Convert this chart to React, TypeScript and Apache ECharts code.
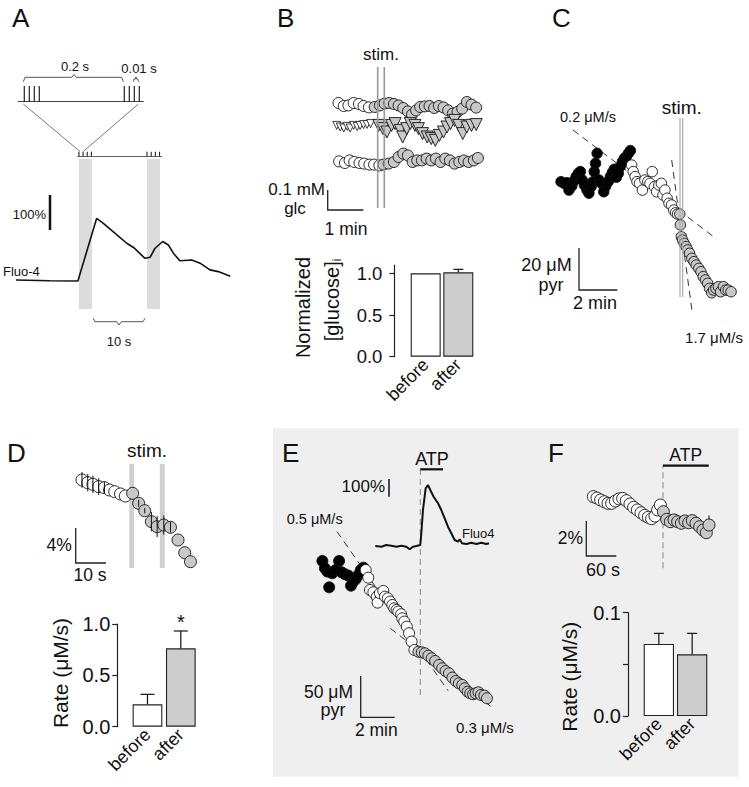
import { useEffect, useRef } from 'react';
import * as echarts from 'echarts';

const FONT = "'Liberation Sans', Arial, Helvetica, sans-serif";
const INK = '#111111';
const GRAY = '#c8c8c8';
const BAR_GRAY = '#cdcdcd';

// ---------------- Panel A ----------------
const aZoomPulses = [0, 0.01, 0.02, 0.03, 0.2, 0.21, 0.22, 0.23]; // s
const aTrainPulses = [12.1, 12.9, 13.7, 14.5, 25.2, 26.0, 26.8, 27.6]; // s
const aTrainSpan = [11.8, 28.1];
const aStimWindows = [[12.1, 14.6], [25.2, 27.7]];
const aStimWindowY = [-83, 346];
const aFluo = [[0, 0], [6.5, -2], [11.9, -3], [15.5, 176], [16.8, 162], [19.4, 129], [21.3, 105], [22.6, 93], [23.8, 76], [24.8, 62], [25.8, 65], [26.7, 90], [28.2, 110], [29.3, 100], [30.3, 76], [31.5, 55], [33.8, 57], [35.4, 48], [37.3, 29], [38.9, 24], [41.2, 11]];

// ---------------- Panel B ----------------
const bStimTimes = [73.2, 84.5];
const bStimY = [-0.14, 0.565];
const bTopBeforeT = [6, 15, 23, 32, 41, 49, 58];
const bTopBeforeY = [0.385, 0.370, 0.373, 0.385, 0.380, 0.370, 0.363];
const bTopAfterT = [68, 77, 85, 93, 101, 109, 117, 125, 132, 139, 146, 154, 162, 170, 178, 186, 194, 202, 210, 218, 226, 234, 242];
const bTopAfterY = [0.365, 0.373, 0.382, 0.385, 0.380, 0.373, 0.360, 0.343, 0.327, 0.348, 0.365, 0.368, 0.370, 0.360, 0.370, 0.363, 0.348, 0.332, 0.340, 0.357, 0.390, 0.377, 0.362];
const bMidBeforeT = [3, 9, 15, 21, 26, 32, 38, 43, 49, 55, 61];
const bMidBeforeY = [0.273, 0.265, 0.260, 0.268, 0.260, 0.273, 0.267, 0.273, 0.277, 0.278, 0.282];
const bMidAfterT = [75, 82, 89, 97, 103, 112, 116, 123, 129, 137, 143, 150, 158, 165, 172, 179, 186, 192, 198, 205, 212, 219, 226, 234, 242];
const bMidAfterY = [0.273, 0.257, 0.240, 0.273, 0.282, 0.248, 0.215, 0.257, 0.282, 0.273, 0.257, 0.232, 0.215, 0.207, 0.198, 0.223, 0.240, 0.265, 0.282, 0.298, 0.273, 0.232, 0.265, 0.273, 0.277];
const bBotBeforeT = [7, 17, 25, 33, 42, 50, 59, 67, 76];
const bBotBeforeY = [0.093, 0.085, 0.098, 0.090, 0.085, 0.082, 0.077, 0.077, 0.073];
const bBotAfterT = [83, 92, 101, 109, 117, 125, 133, 141, 149, 157, 165, 173, 181, 189, 197, 205, 213, 221, 229, 238, 245];
const bBotAfterY = [0.077, 0.082, 0.090, 0.115, 0.132, 0.123, 0.090, 0.098, 0.098, 0.107, 0.098, 0.107, 0.090, 0.107, 0.098, 0.082, 0.090, 0.098, 0.090, 0.098, 0.110];

const barCats = ['before', 'after'];
const bBarValues = [1.0, 1.012];
const bBarErr = [0, 0.036];

// ---------------- Panel C ----------------
const cStimTimes = [394.7, 403.2];
const cStimY = [6.2, 91.4];
const cBlackT = [19, 29, 38, 44, 53, 61, 67, 74, 80, 86, 93, 101, 107, 114, 120, 124, 128, 133, 139, 147, 154, 160, 168, 175, 181, 187, 194, 200, 206, 213, 219, 225, 232, 238];
const cBlackY = [61.1, 60.3, 60.6, 57.1, 59.0, 61.6, 63.5, 65.1, 65.9, 61.9, 59.5, 57.1, 55.6, 58.7, 61.1, 65.9, 69.8, 74.6, 61.9, 60.3, 56.3, 59.0, 61.1, 63.5, 65.4, 67.0, 63.2, 65.1, 68.3, 70.6, 72.2, 73.0, 74.6, 75.9];
const cWhiteT = [242, 247, 253, 259, 267, 276, 284, 293, 300, 307, 314, 321, 328, 336, 341, 347, 354, 360, 368, 375, 381, 387];
const cWhiteY = [69.0, 65.9, 63.5, 61.1, 60.3, 57.1, 61.9, 61.1, 60.3, 65.9, 58.7, 56.3, 59.5, 60.3, 54.8, 57.1, 53.2, 50.8, 50.0, 47.6, 46.3, 45.7];
const cGrayT = [394, 396, 399, 403, 408, 414, 419, 425, 432, 439, 446, 454, 461, 468, 475, 482, 488, 495, 501, 508, 516, 523, 532, 539, 547, 556];
const cGrayY = [45.7, 40.5, 34.9, 33.3, 31.7, 30.2, 28.6, 27.0, 24.6, 23.0, 21.4, 19.8, 18.2, 15.9, 14.3, 12.7, 10.3, 8.2, 9.5, 10.3, 11.1, 8.7, 11.1, 9.5, 9.5, 8.7];
const cFitSlow = [[56.8, 85.7], [510.6, 33.8]];
const cFitFast = [[368.5, 71.4], [433.5, -1.4]];

// ---------------- Panel D ----------------
const dStimWindows = [[18.9, 20.5], [29.0, 30.6]];
const dStimWindowY = [0.8, 12.7];
const dOpenT = [3.3, 5.2, 6.9, 8.8, 10.7, 12.4, 14.1, 16.0, 17.6];
const dOpenY = [10.86, 10.55, 10.36, 10.10, 9.98, 9.71, 9.52, 9.26, 9.03];
const dOpenErr = [0.9, 1.0, 1.0, 0.95, 0.7, 0, 0, 0, 0];
const dGrayT = [20.0, 22.0, 24.0, 26.2, 28.1, 30.3, 32.5, 35.0, 37.2, 39.1];
const dGrayY = [9.33, 8.19, 7.35, 6.10, 5.52, 5.71, 5.45, 4.0, 2.55, 1.52];
const dGrayErr = [0, 0.4, 0.3, 1.1, 1.2, 1.1, 0.6, 0, 0, 0];
const dBarValues = [0.218, 0.763];
const dBarErr = [0.097, 0.169];

// ---------------- Panel E ----------------
const eAtpTime = 371.7;
const eAtpY = [30.3, 303.9];
const eFluo = [[212.9, 70.6], [234.1, 66.7], [251.8, 76.3], [269.5, 72.3], [287.2, 66.7], [304.9, 72.3], [322.5, 66.7], [334.3, 51.8], [345.9, 66.7], [357.6, 70.6], [371.7, 76.3], [375.3, 142.4], [381.2, 274], [390.6, 396.6], [398.8, 415.3], [407, 387], [418.8, 349.2], [434.2, 311.9], [445.9, 274], [457.8, 227], [469.4, 179.7], [481.2, 142.4], [493.1, 104.5], [504.8, 94.9], [510.6, 108.5], [518.8, 85.9], [534.1, 81.9], [551.8, 89.3], [569.4, 81.9], [587.1, 89.3], [604.7, 81.9], [614.2, 85.9]];
const eBlackT = [26, 35, 44, 50, 61, 73, 85, 94, 106, 118, 127, 135, 144, 155, 162, 171];
const eBlackY = [192.5, 183.6, 179.6, 160.6, 177.6, 181.6, 192.5, 178.8, 176.4, 174.7, 162.6, 167.5, 170.7, 176.4, 181.6, 184.4];
const eWhiteT = [179, 188, 194, 206, 218, 221, 229, 241, 247, 257, 265, 273, 280, 288, 294, 304, 308, 315, 324, 332, 341, 351];
const eWhiteY = [181.6, 172.3, 157.4, 154.6, 149.3, 142.1, 153.4, 156.2, 149.3, 147.3, 143.3, 139.2, 135.2, 133.2, 131.2, 128.0, 123.1, 119.1, 113.0, 105.0, 94.9, 84.8];
const eGrayT = [365, 377, 388, 400, 412, 424, 438, 449, 461, 473, 485, 497, 508, 520, 529, 539, 548, 558, 567, 577, 586, 598, 607];
const eGrayY = [82.7, 81.9, 80.7, 77.9, 74.7, 71.4, 66.6, 62.6, 59.3, 56.5, 51.3, 47.2, 44.4, 42.4, 38.4, 34.3, 32.3, 31.1, 32.3, 33.5, 30.3, 29.5, 26.3];
const eFitSlow = [[77.7, 228], [469.5, 35.5]];
const eFitLate = [[265.8, 111], [622.3, 16.1]];

// ---------------- Panel F ----------------
const fAtpTime = 156;
const fAtpY = [-0.47, 5.43];
const fOpenT = [16.7, 24, 31.3, 38.7, 46, 53.3, 60.7, 68, 75.3, 82.7, 90, 97.3, 104.7, 112, 119.3, 126.7, 133.3, 140, 145.3, 150.7];
const fOpenY = [3.62, 3.54, 3.43, 3.33, 3.24, 3.24, 3.37, 3.49, 3.52, 3.39, 3.2, 3.01, 2.86, 2.70, 2.55, 2.44, 2.36, 2.51, 2.86, 3.14];
const fGrayT = [156.7, 163.3, 170.7, 178, 185.3, 192.7, 200, 207.3, 214.7, 222, 229.3, 236, 242.7, 248];
const fGrayY = [2.76, 2.32, 2.19, 2.29, 2.19, 2.10, 2.23, 2.13, 2.25, 2.10, 1.90, 1.71, 1.56, 2.0];
const fGrayErr = [0.2, 0.3, 0.3, 0.3, 0.3, 0.25, 0.3, 0.3, 0.3, 0.35, 0.3, 0.3, 0.35, 0.55];
const fBarValues = [0.0697, 0.0597];
const fBarErr = [0.0103, 0.0203];

// ---------------- helpers ----------------
const pairs = (t: number[], y: number[]) => t.map((v, i) => [v, y[i]]);

function vlines(grid: number, data: number[][], stroke: string, width: number, dash: number[] | null, z: number) {
  return {
    type: 'custom', xAxisIndex: grid, yAxisIndex: grid, z, silent: true, clip: false, data,
    renderItem: (_p: any, api: any) => {
      const a = api.coord([api.value(0), api.value(1)]);
      const b = api.coord([api.value(0), api.value(2)]);
      return { type: 'line', shape: { x1: a[0], y1: a[1], x2: b[0], y2: b[1] }, style: { stroke, lineWidth: width, lineDash: dash || undefined } };
    },
  };
}

function rects(grid: number, data: number[][], fill: string, z: number) {
  return {
    type: 'custom', xAxisIndex: grid, yAxisIndex: grid, z, silent: true, clip: false, data,
    renderItem: (_p: any, api: any) => {
      const a = api.coord([api.value(0), api.value(3)]);
      const b = api.coord([api.value(1), api.value(2)]);
      return { type: 'rect', shape: { x: a[0], y: a[1], width: b[0] - a[0], height: b[1] - a[1] }, style: { fill } };
    },
  };
}

function errs(grid: number, data: number[][], cap: number, symmetric: boolean, width: number, z: number) {
  return {
    type: 'custom', xAxisIndex: grid, yAxisIndex: grid, z, silent: true, clip: false, data,
    renderItem: (_p: any, api: any) => {
      const x = api.value(0), y = api.value(1), e = api.value(2);
      if (!e) return null;
      const top = api.coord([x, y + e]);
      const bot = api.coord([x, symmetric ? y - e : y]);
      const children: any[] = [
        { type: 'line', shape: { x1: top[0], y1: top[1], x2: bot[0], y2: bot[1] }, style: { stroke: '#111', lineWidth: width } },
      ];
      if (cap > 0) children.push({ type: 'line', shape: { x1: top[0] - cap / 2, y1: top[1], x2: top[0] + cap / 2, y2: top[1] }, style: { stroke: '#111', lineWidth: width } });
      return { type: 'group', children };
    },
  };
}

function dots(grid: number, data: number[][], size: number, fill: string, z: number, symbol = 'circle', rotate = 0, border = 0.9) {
  return {
    type: 'scatter', xAxisIndex: grid, yAxisIndex: grid, data, symbol, symbolSize: size, symbolRotate: rotate,
    itemStyle: { color: fill, borderColor: '#111', borderWidth: border, opacity: 1 }, z, silent: true, clip: false,
  };
}

function dashLine(grid: number, data: number[][], z: number) {
  return { type: 'line', xAxisIndex: grid, yAxisIndex: grid, data, symbol: 'none', silent: true, z, clip: false, lineStyle: { color: '#333', width: 1, type: [7, 5] } };
}

function bars(grid: number, values: number[], w: number) {
  return {
    type: 'bar', xAxisIndex: grid, yAxisIndex: grid, barWidth: w, silent: true, z: 2,
    data: values.map((v, i) => ({ value: v, itemStyle: { color: i === 0 ? '#ffffff' : BAR_GRAY } })),
    itemStyle: { borderColor: '#222', borderWidth: 1.1 },
  };
}

const hid = (grid: number, min: number, max: number) => ({ type: 'value', gridIndex: grid, min, max, show: false, splitLine: { show: false } });
const catX = (grid: number, fs: number) => ({
  type: 'category', gridIndex: grid, data: barCats, boundaryGap: true,
  axisLine: { show: false }, axisTick: { show: false }, splitLine: { show: false },
  axisLabel: { interval: 0, rotate: 45, fontSize: fs, fontFamily: FONT, color: INK, margin: 5 },
});
const barY = (grid: number, max: number, interval: number, offset: number, fs: number, margin: number, extra: any = {}) => ({
  type: 'value', gridIndex: grid, min: 0, max, interval, offset,
  axisLine: { show: true, lineStyle: { color: '#222', width: 1.2 } },
  axisTick: { show: true, length: 5, lineStyle: { color: '#222', width: 1.2 }, ...(extra.tick || {}) },
  axisLabel: { fontSize: fs, fontFamily: FONT, color: INK, margin, formatter: (v: number) => v.toFixed(1), ...(extra.label || {}) },
  splitLine: { show: false },
});

const GRIDS = [
  { left: 18.3, top: 86, width: 125, height: 15.7 },     // 0 A zoomed stimulus
  { left: 16, top: 151.7, width: 218.4, height: 5 },     // 1 A train ticks
  { left: 16, top: 157.5, width: 218.4, height: 157.5 }, // 2 A trace
  { left: 335, top: 60, width: 157.5, height: 155 },     // 3 B trace
  { left: 409.4, top: 265, width: 65.2, height: 91.7 },  // 4 B bars
  { left: 555, top: 100, width: 190, height: 231 },      // 5 C trace
  { left: 72, top: 461.25, width: 121.2, height: 113.75 }, // 6 D trace
  { left: 130.8, top: 624, width: 66.7, height: 102.7 }, // 7 D bars
  { left: 315, top: 470, width: 181.3, height: 88.5 },   // 8 E fluo
  { left: 315, top: 463.9, width: 181.3, height: 272.6 },// 9 E pyr
  { left: 585, top: 455, width: 140, height: 122.5 },    // 10 F trace
  { left: 642.2, top: 612.7, width: 66.6, height: 103.3 }, // 11 F bars
];

function txt(text: string, x: number, y: number, size: number, align = 'center', rotation = 0) {
  return { type: 'text', x, y, rotation, z: 50, silent: true, style: { text, fontSize: size, fontFamily: FONT, fill: INK, align, verticalAlign: 'middle' } };
}
function pl(points: number[][], stroke = '#222', lineWidth = 1.3) {
  return { type: 'polyline', z: 50, silent: true, shape: { points }, style: { stroke, lineWidth, fill: null } };
}

function buildOption() {
  const xAxis = [
    { type: 'value', gridIndex: 0, min: -0.012, max: 0.238, axisLine: { show: true, onZero: false, lineStyle: { color: '#444', width: 1 } }, axisTick: { show: false }, axisLabel: { show: false }, splitLine: { show: false } },
    hid(1, 0, 42), hid(2, 0, 42), hid(3, 0, 270), catX(4, 18), hid(5, 0, 600), hid(6, 0, 40), catX(7, 18),
    hid(8, 0, 640), hid(9, 0, 640), hid(10, 0, 280), catX(11, 18),
  ];
  const yAxis = [
    hid(0, 0, 1), hid(1, 0, 1), hid(2, -100, 350), hid(3, -0.175, 0.6),
    barY(4, 1.1, 0.5, 15, 18.5, 12, { tick: { customValues: [0, 0.5, 1] }, label: { customValues: [0, 0.5, 1] } }),
    hid(5, -10, 100), hid(6, 0, 13),
    barY(7, 1, 0.5, 13.5, 20, 7),
    hid(8, 0, 500), hid(9, -20, 310), hid(10, -1, 6),
    barY(11, 0.1, 0.05, 14.2, 20, 7, { label: { formatter: (v: number) => (Math.abs(v - 0.05) < 1e-6 ? '' : v.toFixed(1)) } }),
  ];

  const series: any[] = [
    // A
    vlines(0, aZoomPulses.map((t) => [t, 0, 1]), '#222', 1.2, null, 3),
    vlines(1, aTrainPulses.map((t) => [t, 0, 1]), '#222', 1.1, null, 3),
    { type: 'line', xAxisIndex: 1, yAxisIndex: 1, data: aTrainSpan.map((t) => [t, 0]), symbol: 'none', silent: true, lineStyle: { color: '#444', width: 1 } },
    rects(2, aStimWindows.map(([a, b]) => [a, b, aStimWindowY[0], aStimWindowY[1]]), '#dcdcdc', 1),
    { type: 'line', xAxisIndex: 2, yAxisIndex: 2, data: aFluo, symbol: 'none', silent: true, z: 3, lineStyle: { color: '#111', width: 1.6 } },
    // B
    dots(3, pairs(bTopBeforeT, bTopBeforeY), 11, '#ffffff', 3),
    dots(3, pairs(bTopAfterT, bTopAfterY), 11, GRAY, 3),
    dots(3, pairs(bMidBeforeT, bMidBeforeY), 8, '#ffffff', 3, 'triangle', 180, 0.8),
    dots(3, pairs(bMidAfterT, bMidAfterY), 12, GRAY, 3, 'triangle', 180),
    dots(3, pairs(bBotBeforeT, bBotBeforeY), 11, '#ffffff', 3),
    dots(3, pairs(bBotAfterT, bBotAfterY), 11, GRAY, 3),
    vlines(3, bStimTimes.map((t) => [t, bStimY[0], bStimY[1]]), '#999999', 1.6, null, 6),
    bars(4, bBarValues, 30),
    errs(4, bBarValues.map((v, i) => [i, v, bBarErr[i]]), 10, false, 1.2, 3),
    // C
    dashLine(5, cFitSlow, 2), dashLine(5, cFitFast, 2),
    dots(5, pairs(cBlackT, cBlackY), 10.5, '#000000', 3),
    dots(5, pairs(cWhiteT, cWhiteY), 10.5, '#ffffff', 3),
    dots(5, pairs(cGrayT, cGrayY), 10.5, GRAY, 3),
    vlines(5, cStimTimes.map((t) => [t, cStimY[0], cStimY[1]]), '#aaaaaa', 1.2, null, 6),
    // D
    rects(6, dStimWindows.map(([a, b]) => [a, b, dStimWindowY[0], dStimWindowY[1]]), '#cfcfcf', 1),
    dots(6, pairs(dOpenT, dOpenY), 12, '#ffffff', 3),
    dots(6, pairs(dGrayT, dGrayY), 12, GRAY, 3),
    errs(6, dOpenT.map((t, i) => [t, dOpenY[i], dOpenErr[i]]), 0, true, 1, 6),
    errs(6, dGrayT.map((t, i) => [t, dGrayY[i], dGrayErr[i]]), 0, true, 1, 6),
    bars(7, dBarValues, 29.7),
    errs(7, dBarValues.map((v, i) => [i, v, dBarErr[i]]), 14, false, 1.2, 3),
    // E
    { type: 'line', xAxisIndex: 8, yAxisIndex: 8, data: eFluo, symbol: 'none', silent: true, z: 3, lineStyle: { color: '#111', width: 2 } },
    vlines(9, [[eAtpTime, eAtpY[0], eAtpY[1]]], '#888888', 1, [6, 4], 1),
    dashLine(9, eFitSlow, 2), dashLine(9, eFitLate, 2),
    dots(9, pairs(eBlackT, eBlackY), 11, '#000000', 3),
    dots(9, pairs(eWhiteT, eWhiteY), 11, '#ffffff', 3),
    dots(9, pairs(eGrayT, eGrayY), 11, GRAY, 3),
    // F
    vlines(10, [[fAtpTime, fAtpY[0], fAtpY[1]]], '#888888', 1, [6, 4], 1),
    errs(10, fGrayT.map((t, i) => [t, fGrayY[i], fGrayErr[i]]), 0, true, 1, 2),
    dots(10, pairs(fOpenT, fOpenY), 12, '#ffffff', 3),
    dots(10, pairs(fGrayT, fGrayY), 12, GRAY, 3),
    bars(11, fBarValues, 30.3),
    errs(11, fBarValues.map((v, i) => [i, v, fBarErr[i]]), 10, false, 1.2, 3),
  ];

  const graphic: any[] = [
    { type: 'rect', z: -10, silent: true, shape: { x: 273, y: 428.3, width: 465.7, height: 348.4 }, style: { fill: '#efefef' } },
    // A
    txt('A', 12, 18, 26, 'left'),
    txt('0.2 s', 75, 66, 13),
    txt('0.01 s', 139, 68, 13),
    pl([[23.3, 81.7], [25, 77.3], [71.7, 77.3], [74, 74.5], [76.3, 77.3], [121.7, 77.3], [123.3, 81.7]], '#555', 1),
    pl([[133.3, 81.7], [134, 79], [135.4, 79], [136, 76.8], [136.6, 79], [137.8, 79], [138.5, 81.7]], '#555', 1),
    pl([[23.3, 104], [80, 151.5]], '#555', 0.8),
    pl([[138.3, 104], [83.3, 151.5]], '#555', 0.8),
    txt('100%', 46, 214, 13, 'right'),
    pl([[50, 195], [50, 230]], '#111', 2.5),
    txt('Fluo-4', 3, 271, 13, 'left'),
    pl([[93.3, 318.3], [95, 321.7], [116.7, 321.7], [119, 325], [121.3, 321.7], [143, 321.7], [145, 318.3]], '#555', 1),
    txt('10 s', 119, 341, 13),
    // B
    txt('B', 277, 18, 26, 'left'),
    txt('stim.', 381, 54, 17),
    pl([[327.7, 190], [327.7, 210], [363.3, 210]]),
    txt('0.1 mM', 325, 189.5, 17, 'right'),
    txt('glc', 295, 208.5, 17),
    txt('1 min', 346, 229, 17.5),
    txt('Normalized', 303, 307.5, 20, 'center', Math.PI / 2),
    {
      type: 'text', x: 332, y: 300, rotation: Math.PI / 2, z: 50, silent: true,
      style: {
        text: '{a|[glucose]}{b|i}', fill: INK, align: 'center', verticalAlign: 'middle',
        rich: { a: { fontSize: 20, fontFamily: FONT, fill: INK, lineHeight: 22 }, b: { fontSize: 12, fontFamily: FONT, fill: INK, verticalAlign: 'bottom', lineHeight: 22 } },
      },
    },
    // C
    txt('C', 552, 18, 26, 'left'),
    txt('stim.', 681.7, 107, 19),
    txt('0.2 μM/s', 588, 117, 14.5),
    txt('1.7 μM/s', 714, 337, 15),
    pl([[579, 248], [579, 290], [617.3, 290]]),
    txt('20 μM', 571.7, 265, 18, 'right'),
    txt('pyr', 551, 285, 18),
    txt('2 min', 595, 302.5, 18),
    // D
    txt('D', 7, 453, 26, 'left'),
    txt('stim.', 147, 450, 19),
    pl([[75.7, 528], [75.7, 563], [106, 563]]),
    txt('4%', 71.7, 545, 17.5, 'right'),
    txt('10 s', 90, 575, 17.5),
    txt('*', 181, 622, 20),
    txt('Rate (μM/s)', 60.5, 673, 21, 'center', Math.PI / 2),
    // E
    txt('E', 282, 453, 26, 'left'),
    txt('ATP', 432, 459, 18),
    pl([[420.3, 469.3], [443, 469.3]], '#111', 2.2),
    txt('100%', 385, 486, 17, 'right'),
    pl([[389, 479], [389, 496.7]], '#111', 1.5),
    txt('Fluo4', 462, 533, 13, 'left'),
    txt('0.5 μM/s', 314.7, 519.3, 14.5),
    txt('0.3 μM/s', 456, 727.5, 15, 'left'),
    pl([[360.7, 676], [360.7, 717.3], [394.7, 717.3]]),
    txt('50 μM', 353, 691.7, 17.5, 'right'),
    txt('pyr', 333, 710, 18),
    txt('2 min', 376.3, 730, 17.5),
    // F
    txt('F', 548, 453, 26, 'left'),
    txt('ATP', 685.7, 455, 17.5),
    pl([[663, 465.7], [708.7, 465.7]], '#111', 2.2),
    pl([[586.3, 521], [586.3, 556], [616.3, 556]]),
    txt('2%', 583, 538, 17.5, 'right'),
    txt('60 s', 603, 570, 18),
    txt('Rate (μM/s)', 569.7, 676.7, 21, 'center', Math.PI / 2),
  ];

  return {
    animation: false,
    backgroundColor: '#ffffff',
    textStyle: { fontFamily: FONT },
    grid: GRIDS.map((g) => ({ ...g, containLabel: false, outerBoundsMode: 'none', show: false })),
    xAxis,
    yAxis,
    series,
    graphic,
  };
}

export default function App() {
  const ref = useRef<HTMLDivElement>(null);
  useEffect(() => {
    document.body.style.margin = '0';
    const chart = echarts.init(ref.current as HTMLDivElement, null, { renderer: 'svg' });
    chart.setOption(buildOption() as any);
    return () => chart.dispose();
  }, []);
  return <div ref={ref} style={{ position: 'absolute', left: 0, top: 0, width: 749, height: 787 }} />;
}
